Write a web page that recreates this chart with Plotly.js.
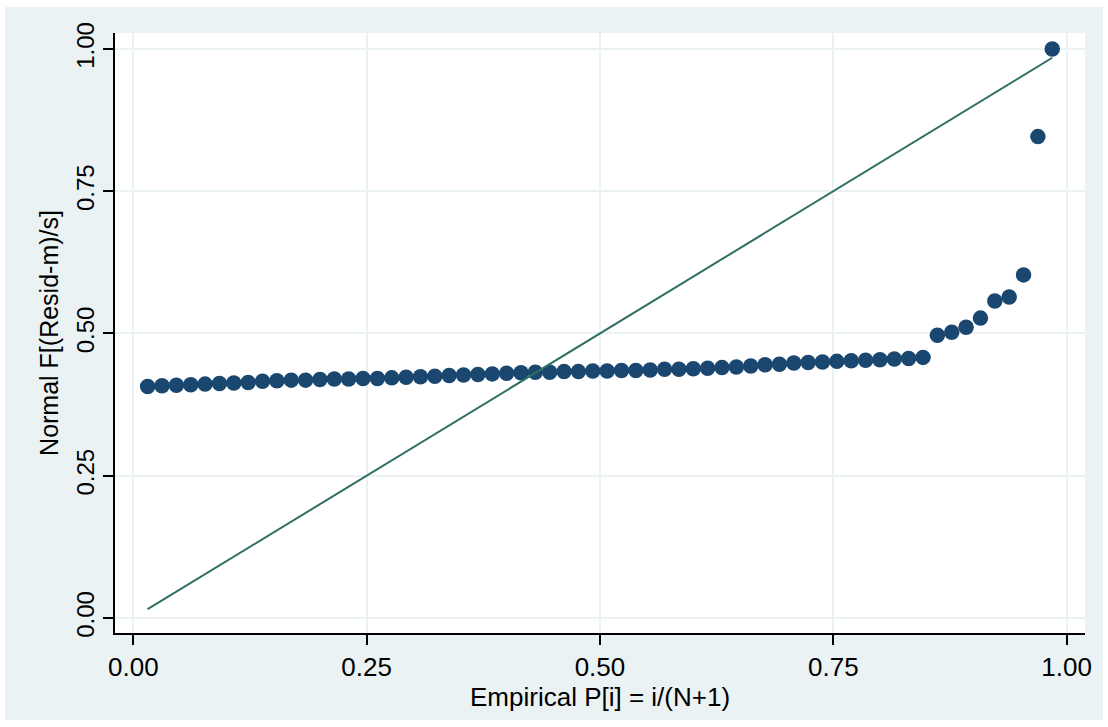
<!DOCTYPE html>
<html>
<head>
<meta charset="utf-8">
<script src="https://cdn.plot.ly/plotly-3.0.1.min.js"></script>
<style>
  html, body { margin: 0; padding: 0; background: #ffffff; }
  #chart { position: absolute; left: 5px; top: 7px; width: 1098px; height: 713px; }
</style>
</head>
<body>
<div id="chart"></div>
<script>
// Normal F[(Resid-m)/s] values, sorted residuals (N = 64)
const normalF = [
  0.407, 0.408, 0.409, 0.410, 0.411, 0.412, 0.413, 0.414, 0.416, 0.417,
  0.418, 0.418, 0.419, 0.420, 0.420, 0.421, 0.421, 0.422, 0.423, 0.424,
  0.425, 0.426, 0.427, 0.428, 0.429, 0.430, 0.431, 0.432, 0.432, 0.433,
  0.433, 0.434, 0.434, 0.435, 0.435, 0.436, 0.437, 0.437, 0.438, 0.439,
  0.440, 0.441, 0.443, 0.445, 0.446, 0.448, 0.449, 0.450, 0.451, 0.452,
  0.453, 0.454, 0.455, 0.456, 0.458, 0.497, 0.502, 0.511, 0.527, 0.557,
  0.564, 0.603, 0.846, 1.000
];
const N = normalF.length;
// Empirical P[i] = i/(N+1)
const empiricalP = normalF.map((_, k) => (k + 1) / (N + 1));

const xTickVals = [0, 0.25, 0.5, 0.75, 1];
const xTickText = ["0.00", "0.25", "0.50", "0.75", "1.00"];
const yTickVals = [0, 0.25, 0.5, 0.75, 1];
const yTickText = ["0.00", "0.25", "0.50", "0.75", "1.00"];

const xTitle = "Empirical P[i] = i/(N+1)";
const yTitle = "Normal F[(Resid-m)/s]";

const font = "Liberation Sans, Arial, sans-serif";
const bg = "#eaf2f3";

const traces = [
  {
    type: "scatter",
    mode: "markers",
    x: empiricalP,
    y: normalF,
    marker: { color: "#1a476f", size: 15.5, line: { width: 0 } },
    hoverinfo: "x+y",
    showlegend: false
  },
  {
    type: "scatter",
    mode: "lines",
    x: [empiricalP[0], empiricalP[N - 1]],
    y: [empiricalP[0], empiricalP[N - 1]],
    line: { color: "#2f6f63", width: 2 },
    hoverinfo: "skip",
    showlegend: false
  }
];

const layout = {
  width: 1098,
  height: 713,
  paper_bgcolor: bg,
  plot_bgcolor: "#ffffff",
  margin: { l: 110, r: 18, t: 26, b: 87 },
  font: { family: font, color: "#000000" },
  showlegend: false,
  xaxis: {
    range: [-0.0196, 1.0197],
    tickvals: xTickVals,
    ticktext: xTickText,
    ticks: "outside",
    ticklen: 10,
    tickwidth: 1.5,
    tickcolor: "#000000",
    tickfont: { family: font, size: 26, color: "#000000" },
    showline: true,
    linecolor: "#000000",
    linewidth: 1.5,
    showgrid: true,
    gridcolor: bg,
    gridwidth: 2,
    zeroline: false,
    title: { text: "" }
  },
  yaxis: {
    range: [-0.0264, 1.0281],
    tickvals: yTickVals,
    ticktext: yTickText,
    tickangle: -90,
    ticks: "outside",
    ticklen: 10,
    tickwidth: 1.5,
    tickcolor: "#000000",
    tickfont: { family: font, size: 24, color: "#000000" },
    showline: true,
    linecolor: "#000000",
    linewidth: 1.5,
    showgrid: true,
    gridcolor: bg,
    gridwidth: 2,
    zeroline: false,
    title: { text: yTitle, font: { family: font, size: 25, color: "#000000" }, standoff: 6 }
  },
  annotations: [
    {
      text: xTitle,
      xref: "paper", yref: "paper",
      x: 0.5, y: -0.106,
      xanchor: "center", yanchor: "middle",
      showarrow: false,
      font: { family: font, size: 26, color: "#000000" }
    }
  ]
};

Plotly.newPlot("chart", traces, layout, { displayModeBar: false, staticPlot: false });
</script>
</body>
</html>
